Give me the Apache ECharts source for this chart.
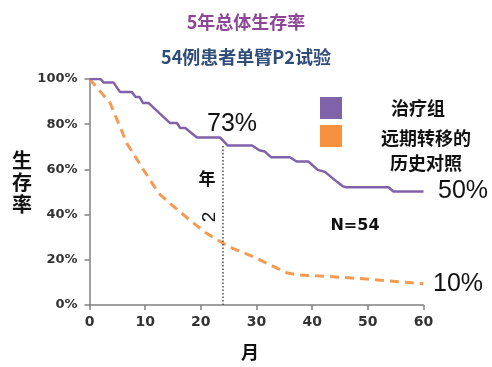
<!DOCTYPE html>
<html>
<head>
<meta charset="utf-8">
<script src="https://cdn.jsdelivr.net/npm/echarts@6/dist/echarts.min.js"></script>
<style>
  html, body {margin: 0; padding: 0; background: #fff;}
  #main {width: 492px; height: 367px;}
</style>
</head>
<body>
<div id="main"></div>
<script>
// 治疗组 (月, 生存率%)
const treatMonths = [0, 2, 2.5, 4.3, 5.5, 7.6, 8.3, 9, 9.6, 10.6, 12.5, 14.5, 15.7, 16.3, 17.2, 19.3, 23.5, 24.8, 29.2, 30.5, 31.5, 32.6, 36, 37.2, 39.3, 41, 42.3, 44.4, 45.5, 46.2, 53.7, 54.6, 60]
const treatRates = [100, 100, 98.5, 98.5, 94.2, 94.2, 92, 92, 89.4, 89.4, 85, 80.5, 80.5, 78.3, 78.3, 74.1, 74.1, 70.6, 70.6, 68.5, 67.9, 65.4, 65.4, 63.5, 63.5, 59.8, 58.9, 54.6, 52.5, 52.1, 52.1, 50.2, 50.2]
// 远期转移的历史对照
const ctrlMonths = [0, 3.7, 6.7, 9.7, 12.4, 15.1, 18.7, 21, 24, 25.7, 29.4, 31.8, 35.4, 37.2, 43.7, 49.7, 55.7, 60]
const ctrlRates = [100, 89.4, 71.6, 59.8, 49.5, 43.6, 36.2, 31.8, 27.3, 25.1, 21.4, 18.5, 14.3, 13.4, 12.5, 11.5, 10.3, 9.4]
const xTicks = [0, 10, 20, 30, 40, 50, 60]
const yTicks = [0, 20, 40, 60, 80, 100]
const seriesNames = ['治疗组', '远期转移的\n历史对照']
const markMonth = 24
const markRate = 70.6

const purple = '#7f62a9'
const orange = '#f7913f'
const cjk = '"Noto Sans CJK SC", sans-serif'

const toPoints = function (xs, ys) {
  return xs.map((x, i) => [x, ys[i] / 100])
}

const chart = echarts.init(document.getElementById('main'))

chart.setOption({
  animation: false,
  backgroundColor: '#fff',
  title: [
    {
      text: '5年总体生存率',
      left: 'center',
      top: 8,
      textStyle: {fontFamily: cjk, fontSize: 18, fontWeight: 'bold', color: '#8e4697'}
    },
    {
      text: '54例患者单臂P2试验',
      left: 'center',
      top: 43,
      textStyle: {fontFamily: cjk, fontSize: 18, fontWeight: 'bold', color: '#2f4d78'}
    }
  ],
  grid: {left: 89.5, right: 68.5, top: 79, bottom: 62},
  xAxis: {
    type: 'value',
    min: xTicks[0],
    max: xTicks[xTicks.length - 1],
    interval: 10,
    splitLine: {show: false},
    axisLine: {lineStyle: {color: '#808080', width: 1.5}},
    axisTick: {show: true, length: 5, lineStyle: {color: '#808080', width: 1.5}},
    axisLabel: {
      margin: 10,
      fontFamily: '"DejaVu Sans"',
      fontWeight: 'bold',
      fontSize: 14,
      color: '#333'
    }
  },
  yAxis: {
    type: 'value',
    min: yTicks[0] / 100,
    max: yTicks[yTicks.length - 1] / 100,
    interval: 0.2,
    splitLine: {show: false},
    axisLine: {show: true, lineStyle: {color: '#808080', width: 1.5}},
    axisTick: {show: true, length: 5, lineStyle: {color: '#808080', width: 1.5}},
    axisLabel: {
      margin: 12,
      fontFamily: '"DejaVu Sans"',
      fontWeight: 'bold',
      fontSize: 13,
      color: '#333',
      formatter: function (v) {
        return Math.round(v * 100) + '%'
      }
    }
  },
  series: [
    {
      name: seriesNames[0],
      type: 'line',
      data: toPoints(treatMonths, treatRates),
      showSymbol: false,
      lineStyle: {color: purple, width: 2.5},
      z: 3
    },
    {
      name: seriesNames[1],
      type: 'line',
      data: toPoints(ctrlMonths, ctrlRates),
      showSymbol: false,
      lineStyle: {color: '#f49a52', width: 3, type: [9, 6]},
      z: 2,
      // 2年虚线
      markLine: {
        silent: true,
        symbol: 'none',
        label: {show: false},
        lineStyle: {color: '#4a4f63', width: 1.5, type: [1.5, 2]},
        data: [[{coord: [markMonth, 0]}, {coord: [markMonth, markRate / 100]}]]
      }
    }
  ],
  graphic: [
    // 图例
    {type: 'rect', left: 320, top: 97, shape: {width: 22, height: 22}, style: {fill: purple}},
    {type: 'rect', left: 320, top: 125, shape: {width: 22, height: 22}, style: {fill: orange}},
    {type: 'text', x: 418, y: 108, style: {text: seriesNames[0], font: 'bold 18px ' + cjk, fill: '#111', align: 'center', verticalAlign: 'middle'}},
    {type: 'text', x: 426, y: 151, style: {text: seriesNames[1], font: 'bold 18px ' + cjk, fill: '#111', align: 'center', verticalAlign: 'middle', lineHeight: 25}},
    // y轴名称
    {type: 'text', x: 22, y: 182, style: {text: '生\n存\n率', font: 'bold 20px ' + cjk, fill: '#111', align: 'center', verticalAlign: 'middle', lineHeight: 22}},
    // x轴名称
    {type: 'text', x: 250, y: 352, style: {text: '月', font: 'bold 18px ' + cjk, fill: '#111', align: 'center', verticalAlign: 'middle'}},
    // 标注
    {type: 'text', x: 232, y: 124, style: {text: '73%', font: '25px "Liberation Sans"', fill: '#111', align: 'center', verticalAlign: 'middle'}},
    {type: 'text', x: 463, y: 191, style: {text: '50%', font: '25px "Liberation Sans"', fill: '#111', align: 'center', verticalAlign: 'middle'}},
    {type: 'text', x: 458, y: 284, style: {text: '10%', font: '25px "Liberation Sans"', fill: '#111', align: 'center', verticalAlign: 'middle'}},
    {type: 'text', x: 355, y: 226, style: {text: 'N=54', font: 'bold 16px "DejaVu Sans"', fill: '#111', align: 'center', verticalAlign: 'middle'}},
    {type: 'text', x: 207, y: 179, style: {text: '年', font: 'bold 17px ' + cjk, fill: '#111', align: 'center', verticalAlign: 'middle'}},
    {type: 'text', x: 210, y: 217, rotation: Math.PI / 2, style: {text: '2', font: '19px "Liberation Sans"', fill: '#111', align: 'center', verticalAlign: 'middle'}}
  ]
})
</script>
</body>
</html>
